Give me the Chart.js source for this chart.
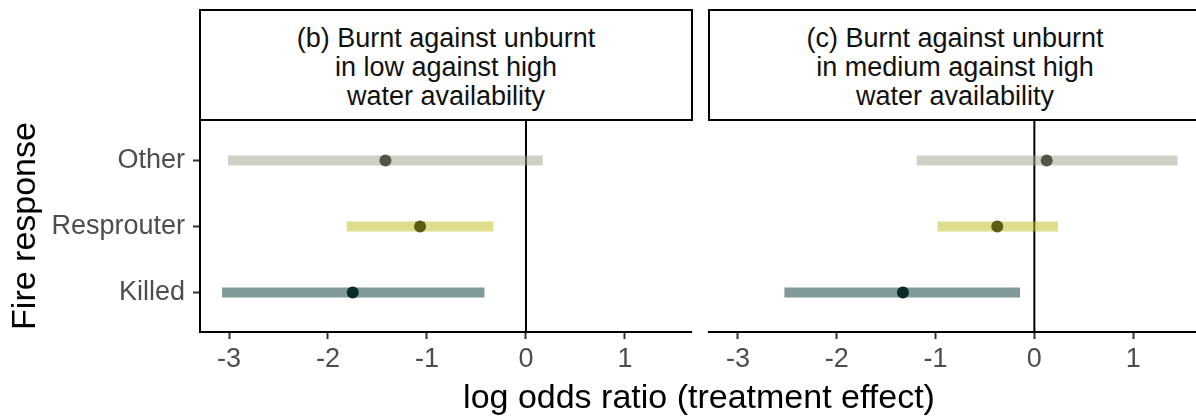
<!DOCTYPE html>
<html>
<head>
<meta charset="utf-8">
<script src="https://cdn.jsdelivr.net/npm/chart.js@4.4.1/dist/chart.umd.min.js"></script>
<style>
  html, body { margin: 0; padding: 0; background: #fff; overflow: hidden; }
  html { width: 1196px; height: 418px; }
  body { width: 1300px; height: 418px; position: relative; font-family: "Liberation Sans", Arial, sans-serif; }
  canvas { position: absolute; top: 0; }
  .strip { position: absolute; top: 9px; height: 112px; border: 2px solid #000; box-sizing: border-box; background: #fff; }
  .strip-text { position: absolute; top: 24px; font-size: 27px; line-height: 29px; text-align: center; color: #111; white-space: nowrap; }
  #ytitle { position: absolute; left: -127px; top: 207px; width: 300px; height: 38px; line-height: 38px; font-size: 34px; text-align: center; transform: rotate(-90deg); color: #000; }
  #xtitle { position: absolute; left: 399px; top: 377px; width: 600px; line-height: 38px; font-size: 34px; text-align: center; color: #000; }
</style>
</head>
<body>
<canvas id="panel-b" width="700" height="418" style="left:0px"></canvas>
<canvas id="panel-c" width="501" height="418" style="left:700px"></canvas>

<div class="strip" style="left:199px; width:494px;"></div>
<div class="strip-text" style="left:199px; width:494px;">(b) Burnt against unburnt<br>in low against high<br>water availability</div>
<div class="strip" style="left:708px; width:500px;"></div>
<div class="strip-text" style="left:708px; width:494px;">(c) Burnt against unburnt<br>in medium against high<br>water availability</div>

<div id="ytitle">Fire response</div>
<div id="xtitle">log odds ratio (treatment effect)</div>

<script>
// categories from bottom (y = 1) to top (y = 3)
const categories = ['Killed', 'Resprouter', 'Other'];
const catPositions = [1, 2, 3];

// (b) low vs high water availability
const estB = [-1.75, -1.07, -1.42];
const lowB = [-3.07, -1.81, -3.01];
const highB = [-0.42, -0.33, 0.17];

// (c) medium vs high water availability
const estC = [-1.33, -0.375, 0.125];
const lowC = [-2.53, -0.98, -1.19];
const highC = [-0.145, 0.24, 1.45];

const xTicks = [-3, -2, -1, 0, 1];
const xTickLabels = ['-3', '-2', '-1', '0', '1'];

const barColors = ['rgba(0,53,49,0.5)', 'rgba(189,189,28,0.5)', 'rgba(159,163,137,0.5)'];
const pointColors = ['#0c2a2a', '#5d5c14', '#545549'];

function makePanel(id, est, low, high, showY, xMax) {
    const datasets = [];

    // zero reference line
    datasets.push({
        data: [{ x: 0, y: 0.4 }, { x: 0, y: 3.6 }],
        showLine: true,
        borderColor: '#000',
        borderWidth: 2,
        pointRadius: 0,
        order: 3
    });

    categories.forEach((c, i) => {
        datasets.push({
            data: [{ x: low[i], y: catPositions[i] }, { x: high[i], y: catPositions[i] }],
            showLine: true,
            borderColor: barColors[i],
            borderWidth: 10,
            borderCapStyle: 'butt',
            pointRadius: 0,
            order: 2
        });
        datasets.push({
            data: [{ x: est[i], y: catPositions[i] }],
            backgroundColor: pointColors[i],
            borderWidth: 0,
            pointRadius: 6,
            order: 1
        });
    });

    return new Chart(document.getElementById(id), {
        type: 'scatter',
        data: { datasets: datasets },
        options: {
            responsive: false,
            animation: false,
            devicePixelRatio: 1,
            layout: { padding: { top: 121, right: showY ? 9 : 0, bottom: 0, left: showY ? 0 : 9 } },
            plugins: { legend: { display: false }, tooltip: { enabled: false } },
            scales: {
                x: {
                    type: 'linear',
                    min: -3.293,
                    max: xMax,
                    afterBuildTicks: (scale) => { scale.ticks = xTicks.map(v => ({ value: v })); },
                    afterFit: (scale) => { scale.height = 86; },
                    border: { display: true, color: '#000', width: 2 },
                    grid: { drawOnChartArea: false, drawTicks: true, tickLength: 7, tickColor: '#333', tickWidth: 2 },
                    ticks: {
                        color: '#4d4d4d',
                        font: { family: 'Liberation Sans', size: 27 },
                        padding: 4,
                        maxRotation: 0,
                        callback: (v) => xTickLabels[xTicks.indexOf(v)]
                    }
                },
                y: {
                    type: 'linear',
                    display: showY,
                    min: 0.4,
                    max: 3.6,
                    afterBuildTicks: (scale) => { scale.ticks = catPositions.map(v => ({ value: v })); },
                    afterFit: (scale) => { scale.width = showY ? 200 : 0; },
                    border: { display: true, color: '#000', width: 2 },
                    grid: { drawOnChartArea: false, drawTicks: true, tickLength: 7, tickColor: '#333', tickWidth: 2 },
                    ticks: {
                        color: '#4d4d4d',
                        font: { family: 'Liberation Sans', size: 27 },
                        padding: 8,
                        callback: (v) => categories[catPositions.indexOf(v)]
                    }
                }
            }
        }
    });
}

makePanel('panel-b', estB, lowB, highB, true, 1.667);
makePanel('panel-c', estC, lowC, highC, false, 1.626);
</script>
</body>
</html>
